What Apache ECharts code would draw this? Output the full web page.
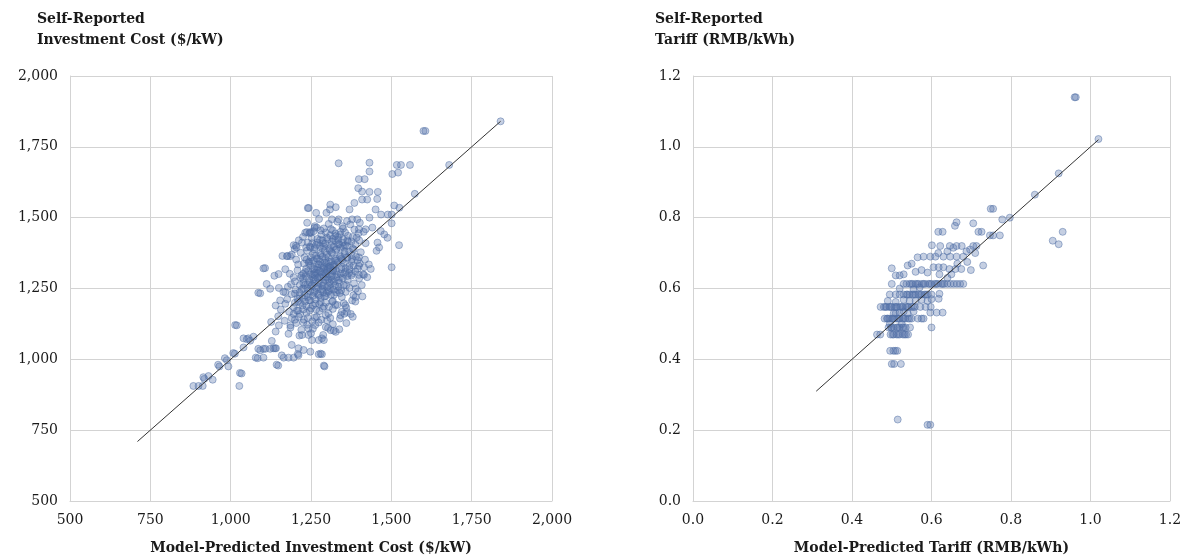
<!DOCTYPE html>
<html>
<head>
<meta charset="utf-8">
<script src="https://cdn.jsdelivr.net/npm/echarts@6/dist/echarts.min.js"></script>
<style>
  html, body { margin: 0; padding: 0; background: #fff; }
  #chart { width: 1185px; height: 560px; }
</style>
</head>
<body>
<div id="chart"></div>
<script>
// tick labels
const costTicks = [500, 750, 1000, 1250, 1500, 1750, 2000]
const tariffTicks = [0.0, 0.2, 0.4, 0.6, 0.8, 1.0, 1.2]

// [model-predicted, self-reported] investment cost ($/kW)
const costPoints = [
  [1840,1840],[1600,1806],[1606,1806],[1680,1686],[1336,1692],[1432,1694],[1432,1663],
  [1517,1686],[1530,1686],[1558,1686],[1503,1654],[1521,1659],[1399,1636],[1417,1636],
  [1397,1604],[1409,1592],[1432,1591],[1458,1591],[1409,1564],[1425,1564],[1456,1566],
  [1573,1584],[1243,1534],[1240,1534],[1266,1517],[1310,1546],[1327,1537],[1385,1552],
  [1370,1529],[1298,1517],[1309,1529],[1336,1494],[1315,1494],[1451,1529],[1468,1511],
  [1489,1511],[1501,1511],[1509,1543],[1525,1535],[1432,1500],[1362,1488],[1378,1494],
  [1394,1494],[1250,1447],[1232,1447],[1261,1464],[1196,1403],[1199,1389],[1161,1365],
  [1177,1365],[1102,1321],[1107,1322],[1136,1295],[1149,1301],[1086,1235],[1092,1233],
  [1112,1266],[1123,1249],[1154,1208],[1170,1237],[1014,1121],[1019,1120],[1040,1074],
  [1055,1074],[1071,1080],[1086,1037],[1102,1037],[1133,1039],[1078,1006],[1084,1004],
  [1102,1006],[1029,952],[1034,950],[961,981],[982,1004],[1008,1022],[915,937],[931,941],
  [884,906],[900,906],[913,906],[918,931],[944,928],[965,975],[988,997],[993,975],
  [1013,1020],[1027,906],[1040,1042],[1050,1071],[1061,1066],[1092,1032],[1108,1037],
  [1123,1037],[1141,1039],[1148,978],[1143,981],[1159,1014],[1165,1006],[1180,1006],
  [1196,1006],[1211,1014],[1209,1019],[1274,1018],[1284,1018],[1280,1020],[1292,975],
  [1290,978],[1227,1033],[1248,1027],[1274,1068],[1290,1068],[1311,1103],[1327,1097],
  [1303,1111],[1321,1101],[1284,1074],[1253,1068],[1242,1086],[1222,1086],[1211,1039],
  [1190,1051],[1128,1065],[1138,1039],[1263,1121],[1242,1109],[1354,1161],[1342,1156],
  [1389,1220],[1389,1249],[1415,1298],[1399,1298],[1436,1319],[1501,1325],[1524,1403],
  [1457,1412],[1454,1383],[1462,1395],[1488,1429],[1478,1441],[1467,1453],[1501,1480],
  [1399,1459],[1420,1459],[1441,1465],[1378,1354],[1399,1360],[1415,1325],[1399,1330],
  [1362,1167],[1357,1191],[1378,1208],[1175,1364],[1185,1364],[1203,1401],[1237,1449],
  [1247,1449],[1268,1465],
  [1238,1482],[1262,1470],[1275,1495],[1290,1462],[1305,1478],[1318,1455],[1332,1486],
  [1348,1470],[1356,1448],[1372,1476],[1385,1458],[1402,1482],[1414,1450],[1258,1452],
  [1282,1440],[1296,1448],[1340,1440],[1365,1436],[1392,1430],
  [1212,1420],[1225,1432],[1240,1412],[1252,1428],[1266,1404],[1278,1422],[1288,1410],
  [1300,1430],[1312,1402],[1326,1418],[1338,1406],[1350,1424],[1362,1400],[1376,1416],
  [1388,1405],[1400,1420],[1420,1410],[1235,1395],[1260,1388],[1285,1392],[1308,1385],
  [1330,1390],[1355,1382],[1380,1390],[1405,1378],
  [1190,1370],[1204,1352],[1218,1376],[1230,1360],[1244,1345],[1256,1372],[1268,1356],
  [1280,1368],[1292,1342],[1304,1360],[1316,1374],[1328,1348],[1340,1366],[1352,1340],
  [1364,1358],[1376,1344],[1390,1362],[1402,1338],[1418,1352],[1210,1335],[1248,1330],
  [1272,1336],[1298,1328],[1322,1332],[1346,1326],[1370,1330],[1395,1320],[1430,1335],
  [1170,1318],[1184,1302],[1196,1290],[1208,1314],[1220,1296],[1232,1308],[1244,1284],
  [1256,1300],[1268,1316],[1280,1290],[1292,1306],[1304,1282],[1316,1298],[1328,1312],
  [1340,1288],[1352,1302],[1364,1280],[1376,1296],[1388,1310],[1400,1286],[1412,1300],
  [1425,1290],[1200,1275],[1226,1270],[1262,1268],[1288,1272],[1312,1266],[1338,1270],
  [1360,1262],[1384,1268],[1408,1262],
  [1150,1252],[1164,1238],[1178,1256],[1190,1230],[1202,1246],[1214,1224],[1226,1250],
  [1238,1232],[1250,1258],[1262,1240],[1274,1226],[1286,1248],[1298,1234],[1310,1252],
  [1322,1228],[1334,1244],[1346,1220],[1358,1238],[1370,1252],[1382,1226],[1396,1240],
  [1410,1222],[1176,1212],[1210,1205],[1244,1208],[1280,1202],[1318,1206],[1352,1198],
  [1388,1204],
  [1140,1190],[1156,1176],[1170,1196],[1182,1168],[1196,1184],[1210,1172],[1224,1190],
  [1236,1164],[1250,1180],[1264,1196],[1276,1170],[1290,1186],[1304,1162],[1318,1178],
  [1332,1192],[1346,1168],[1360,1182],[1374,1160],[1148,1152],[1190,1146],[1228,1140],
  [1262,1148],[1300,1138],[1340,1144],[1380,1150],
  [1126,1132],[1150,1120],[1168,1136],[1186,1112],[1204,1128],[1220,1104],[1238,1122],
  [1256,1108],[1274,1130],[1296,1114],[1318,1124],[1338,1106],[1360,1128],[1140,1098],
  [1180,1090],[1214,1084],[1250,1092],[1288,1086],
  [1260,1320],[1275,1335],[1290,1325],[1305,1345],[1320,1315],[1255,1290],[1270,1305],
  [1285,1260],[1300,1290],[1315,1280],[1330,1300],[1345,1318],[1240,1265],[1265,1280],
  [1295,1355],[1310,1330],[1325,1350],[1278,1345],[1250,1345],[1235,1320],[1225,1285],
  [1345,1355],[1358,1322],[1368,1305],[1382,1330],[1395,1350],[1248,1240],[1272,1255],
  [1292,1222],[1306,1245],[1325,1262],[1340,1234],[1230,1225],[1215,1262],[1200,1232],
  [1188,1265],[1205,1395],[1222,1412],[1248,1395],[1270,1425],[1290,1398],[1315,1415],
  [1335,1422],[1350,1398],[1365,1415],[1380,1432],[1398,1445],[1312,1460],[1325,1435],
  [1280,1455],[1245,1445],
  [1214,1236],[1222,1248],[1231,1262],[1239,1250],[1246,1272],[1253,1262],[1259,1236],
  [1266,1252],[1273,1270],[1281,1246],[1288,1262],[1294,1280],[1301,1256],[1308,1272],
  [1314,1292],[1321,1274],[1328,1290],[1335,1278],[1342,1302],[1349,1286],[1356,1308],
  [1363,1294],[1370,1318],[1377,1302],
  [1218,1288],[1226,1302],[1234,1294],[1241,1312],[1248,1300],[1256,1318],[1263,1306],
  [1270,1324],[1277,1312],[1284,1332],[1291,1318],[1298,1340],[1306,1326],[1313,1346],
  [1320,1334],[1327,1356],[1334,1342],[1341,1362],[1348,1350],[1355,1372],[1362,1360],
  [1369,1380],[1376,1368],[1383,1388],
  [1228,1338],[1236,1352],[1243,1340],[1250,1360],[1258,1348],[1265,1366],[1272,1354],
  [1279,1374],[1286,1362],[1293,1382],[1300,1370],[1307,1390],[1314,1378],[1321,1398],
  [1328,1386],[1335,1406],[1342,1394],[1349,1412],[1356,1402],[1363,1420],
  [1238,1384],[1246,1398],[1254,1410],[1262,1396],[1270,1412],[1278,1400],[1286,1420],
  [1294,1408],[1302,1424],[1310,1438],[1318,1426],[1326,1444],[1334,1432],[1342,1450],
  [1350,1462],
  [1200,1200],[1208,1214],[1216,1200],[1224,1216],[1232,1204],[1240,1220],[1248,1208],
  [1256,1224],[1264,1212],[1272,1230],[1280,1218],[1288,1236],[1296,1224],[1304,1240],
  [1312,1228],[1320,1246],[1328,1236],[1336,1256],[1344,1244],[1352,1262],
  [1196,1160],[1206,1172],[1216,1160],[1226,1176],[1236,1188],[1246,1172],[1256,1190],
  [1266,1176],[1276,1194],[1286,1180],[1296,1200],[1306,1186],[1316,1204],[1326,1192],
  [1186,1120],[1200,1140],[1212,1150],[1226,1130],[1240,1146],[1254,1134],[1268,1150],
  [1282,1140],[1296,1156],[1310,1146],
  [1258,1282],[1262,1296],[1276,1290],[1280,1308],[1296,1302],[1302,1318],[1318,1312],
  [1322,1326],[1290,1290],[1306,1300],[1270,1288],[1284,1300],[1300,1312],[1310,1322]
]
const costFitLine = [[710, 710], [1840, 1840]]

// [model-predicted, self-reported] tariff (RMB/kWh)
const tariffPoints = [
  [0.500,0.387],[0.506,0.387],[0.523,0.387],
  [0.496,0.424],[0.504,0.424],[0.509,0.424],[0.514,0.424],
  [0.463,0.470],[0.471,0.470],[0.497,0.470],[0.505,0.470],[0.512,0.470],[0.520,0.470],
  [0.528,0.470],[0.536,0.470],[0.541,0.470],
  [0.492,0.490],[0.498,0.490],[0.505,0.490],[0.513,0.490],[0.520,0.490],[0.527,0.490],
  [0.535,0.490],[0.546,0.490],[0.600,0.490],
  [0.482,0.515],[0.488,0.515],[0.494,0.515],[0.500,0.515],[0.507,0.515],[0.513,0.515],
  [0.520,0.515],[0.527,0.515],[0.534,0.515],[0.541,0.515],[0.550,0.515],[0.566,0.515],
  [0.575,0.515],[0.580,0.515],
  [0.597,0.532],[0.613,0.532],[0.628,0.532],[0.510,0.530],[0.530,0.535],
  [0.472,0.548],[0.480,0.548],[0.487,0.548],[0.494,0.548],[0.500,0.548],[0.507,0.548],
  [0.514,0.548],[0.521,0.548],[0.528,0.548],[0.535,0.548],[0.542,0.548],[0.550,0.548],
  [0.558,0.548],[0.572,0.548],[0.585,0.548],[0.598,0.548],
  [0.490,0.565],[0.510,0.562],[0.530,0.568],[0.545,0.565],[0.618,0.571],
  [0.495,0.583],[0.510,0.583],[0.520,0.583],[0.530,0.583],[0.537,0.583],[0.545,0.583],
  [0.552,0.583],[0.560,0.583],[0.567,0.583],[0.575,0.583],[0.582,0.583],[0.590,0.583],
  [0.600,0.583],
  [0.520,0.600],[0.555,0.598],[0.570,0.603],
  [0.500,0.613],[0.530,0.613],[0.537,0.613],[0.545,0.613],[0.553,0.613],[0.560,0.613],
  [0.568,0.613],[0.576,0.613],[0.584,0.613],[0.592,0.613],[0.600,0.613],[0.608,0.613],
  [0.616,0.613],[0.624,0.613],[0.632,0.613],[0.640,0.613],[0.648,0.613],[0.656,0.613],
  [0.664,0.613],[0.672,0.613],[0.680,0.613],
  [0.510,0.637],[0.520,0.637],[0.530,0.640],[0.500,0.657],[0.560,0.647],[0.575,0.652],
  [0.590,0.645],[0.605,0.660],[0.618,0.660],[0.630,0.660],[0.645,0.655],[0.660,0.655],
  [0.675,0.655],[0.699,0.652],[0.730,0.665],[0.540,0.665],[0.550,0.670],
  [0.565,0.688],[0.580,0.690],[0.597,0.690],[0.610,0.690],[0.617,0.700],[0.630,0.690],
  [0.647,0.690],[0.663,0.690],[0.680,0.690],
  [0.601,0.722],[0.622,0.720],[0.646,0.720],[0.655,0.715],[0.663,0.720],[0.676,0.720],
  [0.688,0.705],[0.697,0.710],[0.705,0.720],[0.713,0.720],
  [0.617,0.760],[0.628,0.760],[0.718,0.760],[0.726,0.760],[0.747,0.750],[0.755,0.750],
  [0.772,0.750],[0.659,0.777],[0.663,0.787],[0.705,0.784],[0.778,0.795],[0.797,0.800],
  [0.749,0.825],[0.755,0.825],
  [0.860,0.865],[0.920,0.925],[1.020,1.022],[0.960,1.140],[0.963,1.140],[0.905,0.735],
  [0.920,0.725],[0.930,0.760],[0.515,0.230],[0.590,0.215],[0.597,0.215],
  [0.490,0.515],[0.503,0.515],[0.517,0.515],[0.530,0.515],[0.545,0.515],
  [0.484,0.548],[0.497,0.548],[0.511,0.548],[0.525,0.548],[0.539,0.548],[0.554,0.548],
  [0.540,0.583],[0.556,0.583],[0.571,0.583],[0.586,0.583],
  [0.549,0.613],[0.564,0.613],[0.580,0.613],[0.596,0.613],[0.612,0.613],[0.628,0.613],
  [0.502,0.470],[0.516,0.470],[0.532,0.470],[0.500,0.490],[0.516,0.490],[0.530,0.490],
  [0.505,0.530],[0.520,0.532],[0.540,0.530],[0.555,0.535],[0.495,0.500],[0.525,0.500],
  [0.560,0.565],[0.575,0.568],[0.590,0.565],[0.600,0.570],[0.620,0.585],[0.640,0.630],
  [0.620,0.640],[0.650,0.640],[0.665,0.670],[0.690,0.675],[0.710,0.700],[0.640,0.705]
]
const tariffFitLine = [[0.31, 0.31], [1.02, 1.02]]

const FONT = '"DejaVu Serif", serif'
const POINT = {
  color: 'rgba(82,114,170,0.42)',
  borderColor: 'rgba(78,108,162,0.6)',
  borderWidth: 1
}

const labelStyle = { color: '#1a1a1a', fontFamily: FONT, fontSize: 14 }
const gridLine = { show: true, lineStyle: { color: '#d3d3d3', width: 1 } }

function makeAxis(ticks, fmt, extra) {
  return Object.assign({
    type: 'value',
    min: ticks[0],
    max: ticks[ticks.length - 1],
    interval: ticks[1] - ticks[0],
    axisLine: { show: true, lineStyle: { color: '#d3d3d3' } },
    axisTick: { show: false },
    splitLine: gridLine,
    axisLabel: Object.assign({ formatter: fmt, margin: 12 }, labelStyle),
  }, extra)
}

const fmtCost = v => Number(v).toLocaleString('en-US')
const fmtTariff = v => Number(v).toFixed(1)

const xName = {
  nameLocation: 'middle',
  nameGap: 40,
  nameTextStyle: { color: '#1a1a1a', fontFamily: FONT, fontSize: 14, fontWeight: 'bold' }
}

const titleStyle = { fontFamily: FONT, fontSize: 14, fontWeight: 'bold', color: '#1a1a1a', lineHeight: 21 }

const chart = echarts.init(document.getElementById('chart'))

chart.setOption({
  animation: false,
  backgroundColor: '#fff',
  title: [
    { text: 'Self-Reported\nInvestment Cost ($/kW)', left: 37, top: 9, padding: 0, textStyle: titleStyle },
    { text: 'Self-Reported\nTariff (RMB/kWh)', left: 655, top: 9, padding: 0, textStyle: titleStyle }
  ],
  grid: [
    { left: 70, top: 76, width: 482, height: 427 },
    { left: 693, top: 76, width: 477, height: 427 }
  ],
  xAxis: [
    makeAxis(costTicks, fmtCost, Object.assign({ gridIndex: 0, name: 'Model-Predicted Investment Cost ($/kW)' }, xName)),
    makeAxis(tariffTicks, fmtTariff, Object.assign({ gridIndex: 1, name: 'Model-Predicted Tariff (RMB/kWh)' }, xName))
  ],
  yAxis: [
    makeAxis(costTicks, fmtCost, { gridIndex: 0 }),
    makeAxis(tariffTicks, fmtTariff, { gridIndex: 1 })
  ],
  series: [
    {
      type: 'scatter', xAxisIndex: 0, yAxisIndex: 0,
      data: costPoints, symbolSize: 7, itemStyle: POINT
    },
    {
      type: 'line', xAxisIndex: 0, yAxisIndex: 0,
      data: costFitLine, showSymbol: false, symbol: 'none',
      lineStyle: { color: '#333', width: 1 }
    },
    {
      type: 'scatter', xAxisIndex: 1, yAxisIndex: 1,
      data: tariffPoints, symbolSize: 7, itemStyle: POINT
    },
    {
      type: 'line', xAxisIndex: 1, yAxisIndex: 1,
      data: tariffFitLine, showSymbol: false, symbol: 'none',
      lineStyle: { color: '#333', width: 1 }
    }
  ]
})
</script>
</body>
</html>
